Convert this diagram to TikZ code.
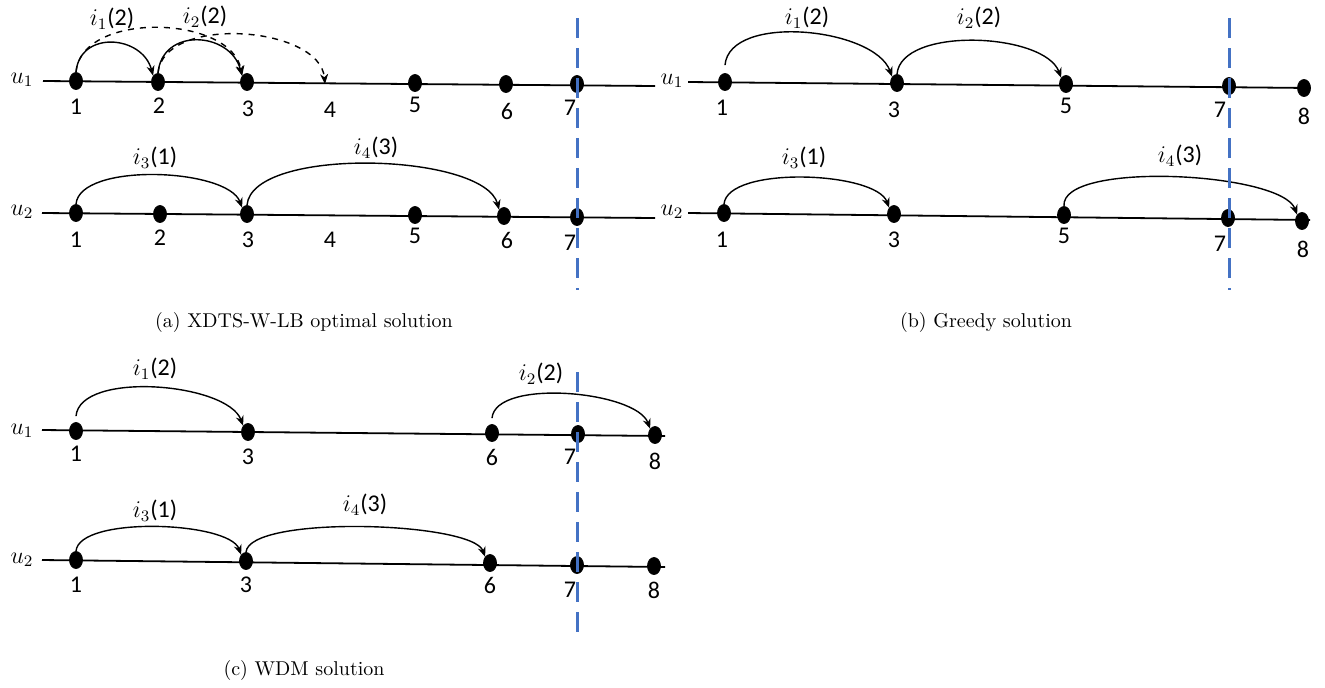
\documentclass[tikz,border=0pt]{standalone}
\usepackage{fontspec}
\newfontfamily\carlito{Carlito}
\usetikzlibrary{arrows.meta,shapes.geometric}
\definecolor{cutblue}{RGB}{68,114,196}
\tikzset{
  evt/.style={ellipse, fill=black, draw=black, inner sep=0pt, minimum width=6.5pt, minimum height=8.5pt},
  num/.style={font=\carlito\fontsize{12}{14}\selectfont, inner sep=1pt},
  usr/.style={font=\fontsize{12}{14}\selectfont, inner sep=1pt},
  ilab/.style={font=\carlito\fontsize{12}{14}\selectfont, inner sep=1pt},
  axis/.style={line width=0.9pt},
  jump/.style={-{Stealth[length=5pt,width=4pt]}, line width=0.7pt},
  altjump/.style={jump, dashed},
  cut/.style={cutblue, line width=1.5pt, dash pattern=on 10pt off 5pt}
}
\begin{document}
\begin{tikzpicture}[x=0.5pt,y=-0.5pt]
\useasboundingbox (0,0) rectangle (1325,687);

% (a) XDTS-W-LB optimal solution
\node[usr] (aU1) at (22,80) {$u_1$};
\coordinate (aL1s) at (43,81);
\coordinate (aL1e) at (655,86);
\draw[axis] (aL1s) -- (aL1e);
\node[evt] (a1p1) at (76,81) {};
\node[evt] (a1p2) at (158,82) {};
\node[evt] (a1p3) at (247,82) {};
\coordinate (a1p4) at (325,84);
\node[evt] (a1p5) at (415,83) {};
\node[evt] (a1p6) at (506,84) {};
\node[evt] (a1p7) at (577,84) {};
\node[num] (a1n1) at (76,107) {1};
\node[num] (a1n2) at (159,106) {2};
\node[num] (a1n3) at (248,109) {3};
\node[num] (a1n4) at (330,110) {4};
\node[num] (a1n5) at (415,105) {5};
\node[num] (a1n6) at (507,111) {6};
\node[num] (a1n7) at (570,108) {7};
\draw[altjump] (a1p1.north) to[out=85,in=100,looseness=0.95] (a1p3.north west);
\draw[altjump] (a1p2.north) to[out=85,in=95,looseness=0.9] (a1p4);
\draw[jump] (a1p1.north) to[out=85,in=105,looseness=1.4] (a1p2.north west);
\draw[jump] (a1p2.north) to[out=85,in=105,looseness=1.4] (a1p3.north west);
\node[ilab] (aI1) at (112,19) {$i_1$(2)};
\node[ilab] (aI2) at (205,17) {$i_2$(2)};

\node[usr] (aU2) at (22,212) {$u_2$};
\coordinate (aL2s) at (42,213);
\coordinate (aL2e) at (655,218);
\draw[axis] (aL2s) -- (aL2e);
\node[evt] (a2p1) at (76,213) {};
\node[evt] (a2p2) at (160,214) {};
\node[evt] (a2p3) at (247,214) {};
\node[evt] (a2p5) at (415,215) {};
\node[evt] (a2p6) at (504,216) {};
\node[evt] (a2p7) at (577,217) {};
\node[num] (a2n1) at (76,240) {1};
\node[num] (a2n2) at (160,238) {2};
\node[num] (a2n3) at (248,240) {3};
\node[num] (a2n4) at (330,240) {4};
\node[num] (a2n5) at (415,236) {5};
\node[num] (a2n6) at (507,240) {6};
\node[num] (a2n7) at (570,243) {7};
\draw[jump] (a2p1.north) to[out=85,in=110,looseness=0.65] (a2p3.north west);
\draw[jump] (a2p3.north) to[out=85,in=105,looseness=0.6] (a2p6.north west);
\node[ilab] (aI3) at (155,158) {$i_3$(1)};
\node[ilab] (aI4) at (376,148) {$i_4$(3)};

\coordinate (aCt) at (577,18);
\coordinate (aCb) at (577,290);
\draw[cut] (aCt) -- (aCb);
\node (capa) at (304,322) {(a) XDTS-W-LB optimal solution};

% (b) Greedy solution
\node[usr] (bU1) at (672,81) {$u_1$};
\coordinate (bL1s) at (688,82);
\coordinate (bL1e) at (1310,88);
\draw[axis] (bL1s) -- (bL1e);
\node[evt] (b1p1) at (725,82) {};
\node[evt] (b1p3) at (897,83) {};
\node[evt] (b1p5) at (1066,84) {};
\node[evt] (b1p7) at (1229,86) {};
\node[evt] (b1p8) at (1304,88) {};
\node[num] (b1n1) at (722,108) {1};
\node[num] (b1n3) at (894,110) {3};
\node[num] (b1n5) at (1066,106) {5};
\node[num] (b1n7) at (1220,110) {7};
\node[num] (b1n8) at (1304,116) {8};
\draw[jump] (b1p1.north) ++(0,-8) to[out=85,in=110,looseness=0.8] (b1p3.north west);
\draw[jump] (b1p3.north) to[out=85,in=110,looseness=0.75] (b1p5.north west);
\node[ilab] (bI1) at (807,18) {$i_1$(2)};
\node[ilab] (bI2) at (979,18) {$i_2$(2)};

\node[usr] (bU2) at (672,212) {$u_2$};
\coordinate (bL2s) at (688,213);
\coordinate (bL2e) at (1310,220);
\draw[axis] (bL2s) -- (bL2e);
\node[evt] (b2p1) at (724,213) {};
\node[evt] (b2p3) at (894,214) {};
\node[evt] (b2p5) at (1064,215) {};
\node[evt] (b2p7) at (1228,218) {};
\node[evt] (b2p8) at (1302,221) {};
\node[num] (b2n1) at (722,240) {1};
\node[num] (b2n3) at (894,240) {3};
\node[num] (b2n5) at (1064,236) {5};
\node[num] (b2n7) at (1220,244) {7};
\node[num] (b2n8) at (1303,249) {8};
\draw[jump] (b2p1.north) to[out=85,in=110,looseness=0.6] (b2p3.north west);
\draw[jump] (b2p5.north) to[out=95,in=110,looseness=0.5] (b2p8.north west);
\node[ilab] (bI3) at (804,158) {$i_3$(1)};
\node[ilab] (bI4) at (1180,156) {$i_4$(3)};

\coordinate (bCt) at (1229,18);
\coordinate (bCb) at (1229,290);
\draw[cut] (bCt) -- (bCb);
\node (capb) at (986,322) {(b) Greedy solution};

% (c) WDM solution
\node[usr] (cU1) at (22,431) {$u_1$};
\coordinate (cL1s) at (42,430);
\coordinate (cL1e) at (665,436);
\draw[axis] (cL1s) -- (cL1e);
\node[evt] (c1p1) at (76,431) {};
\node[evt] (c1p3) at (248,432) {};
\node[evt] (c1p6) at (492,433) {};
\node[evt] (c1p7) at (578,434) {};
\node[evt] (c1p8) at (655,435) {};
\node[num] (c1n1) at (76,454) {1};
\node[num] (c1n3) at (248,457) {3};
\node[num] (c1n6) at (492,457) {6};
\node[num] (c1n7) at (570,457) {7};
\node[num] (c1n8) at (655,461) {8};
\draw[jump] (c1p1.north) ++(0,-6) to[out=85,in=110,looseness=0.7] (c1p3.north west);
\draw[jump] (c1p6.north) ++(0,-6) to[out=85,in=110,looseness=0.65] (c1p8.north west);
\node[ilab] (cI1) at (155,369) {$i_1$(2)};
\node[ilab] (cI2) at (541,374) {$i_2$(2)};

\node[usr] (cU2) at (22,560) {$u_2$};
\coordinate (cL2s) at (42,560);
\coordinate (cL2e) at (665,567);
\draw[axis] (cL2s) -- (cL2e);
\node[evt] (c2p1) at (76,560) {};
\node[evt] (c2p3) at (246,561) {};
\node[evt] (c2p6) at (490,563) {};
\node[evt] (c2p7) at (577,565) {};
\node[evt] (c2p8) at (654,566) {};
\node[num] (c2n1) at (76,585) {1};
\node[num] (c2n3) at (246,585) {3};
\node[num] (c2n6) at (490,585) {6};
\node[num] (c2n7) at (570,590) {7};
\node[num] (c2n8) at (654,590) {8};
\draw[jump] (c2p1.north) to[out=85,in=110,looseness=0.55] (c2p3.north west);
\draw[jump] (c2p3.north) to[out=85,in=110,looseness=0.4] (c2p6.north west);
\node[ilab] (cI3) at (155,511) {$i_3$(1)};
\node[ilab] (cI4) at (365,505) {$i_4$(3)};

\coordinate (cCt) at (577,372);
\coordinate (cCb) at (577,640);
\draw[cut] (cCt) -- (cCb);
\node (capc) at (304,670) {(c) WDM solution};
\end{tikzpicture}
\end{document}
